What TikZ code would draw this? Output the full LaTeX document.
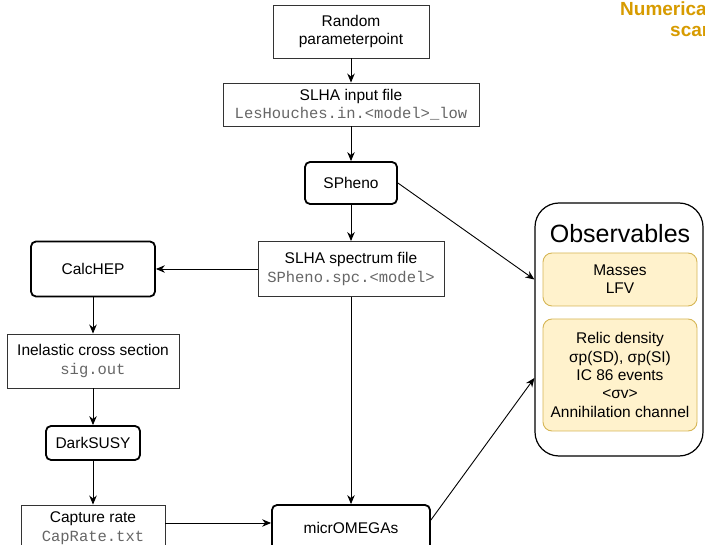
\documentclass[tikz,border=0pt]{standalone}
\usepackage{fontspec}
\setmainfont{Liberation Sans}
\setmonofont{Liberation Mono}
\usetikzlibrary{arrows.meta}
\definecolor{monogray}{HTML}{666666}
\definecolor{boxline}{HTML}{333333}
\definecolor{yfill}{HTML}{FFF2CC}
\definecolor{yline}{HTML}{D6B656}
\definecolor{orangetxt}{HTML}{D79B00}
\tikzset{
  filebox/.style={draw=boxline, line width=0.9pt, fill=white, align=center, inner sep=2pt, font=\fontsize{15.5}{18.5}\selectfont},
  toolbox/.style={draw=black, line width=1.8pt, rounded corners=5pt, fill=white, align=center, font=\fontsize{15.5}{18.5}\selectfont},
  obsbox/.style={draw=yline, line width=0.9pt, fill=yfill, rounded corners=9pt, align=center, font=\fontsize{15.5}{18.3}\selectfont},
  arr/.style={draw=black, line width=0.9pt, -{Stealth[length=9pt,width=7.5pt]}},
}
\newcommand{\mfile}[1]{{\ttfamily\color{monogray}\fontsize{15.5}{18}\selectfont #1}}
\begin{document}
\begin{tikzpicture}[x=1pt,y=-1pt]
\useasboundingbox (0,0) rectangle (705,545);
\clip (0,0) rectangle (705,545);
% observables container
\node[draw=black, line width=1.2pt, rounded corners=24pt, minimum width=168pt, minimum height=253pt] (obs) at (619,329.5) {};
\node[font=\fontsize{25}{29}\selectfont] (obstitle) at (620,234) {Observables};
\node[obsbox, minimum width=154pt, minimum height=53pt] (masses) at (620,279.5) {Masses\\LFV};
\node[obsbox, minimum width=154pt, minimum height=112pt] (relic) at (620,375) {Relic density\\σp(SD), σp(SI)\\IC 86 events\\<σv>\\Annihilation channel};
% numerical scan label (cut off at the right edge, as in the reference)
\node[anchor=base west, inner sep=0pt, font=\bfseries\fontsize{19}{21}\selectfont, text=orangetxt] (num) at (620,16) {Numerical};
\node[anchor=base west, inner sep=0pt, font=\bfseries\fontsize{19}{21}\selectfont, text=orangetxt] (scan) at (670,37) {scan};
% chain
\node[filebox, minimum width=156pt, minimum height=53pt] (rand) at (351,31.5) {Random\\parameterpoint};
\node[filebox, minimum width=256pt, minimum height=43pt] (slhain) at (351,104.5) {SLHA input file\\\mfile{LesHouches.in.<model>\_low}};
\node[toolbox, minimum width=92pt, minimum height=42pt] (spheno) at (351,183) {SPheno};
\node[filebox, minimum width=186pt, minimum height=55pt] (spc) at (351,269) {SLHA spectrum file\\\mfile{SPheno.spc.<model>}};
\node[toolbox, minimum width=124pt, minimum height=55pt] (calchep) at (93,269) {CalcHEP};
\node[filebox, minimum width=172pt, minimum height=54pt] (inel) at (93,361) {Inelastic cross section\\\mfile{sig.out}};
\node[toolbox, minimum width=94pt, minimum height=34pt] (dark) at (93,443) {DarkSUSY};
\node[filebox, minimum width=144pt, minimum height=46pt] (capt) at (93,528) {Capture rate\\\mfile{CapRate.txt}};
\node[toolbox, minimum width=158pt, minimum height=46pt] (micro) at (351,528) {micrOMEGAs};
% arrows
\draw[arr] (rand.south) -- (slhain.north);
\draw[arr] (slhain.south) -- (spheno.north);
\draw[arr] (spheno.south) -- (spc.north);
\draw[arr] (spheno.east) -- (obs.west |- masses.west);
\draw[arr] (spc.west) -- (calchep.east);
\draw[arr] (calchep.south) -- (inel.north);
\draw[arr] (inel.south) -- (dark.north);
\draw[arr] (dark.south) -- (capt.north);
\draw[arr] (capt.east |- 0,523) -- (micro.west |- 0,523);
\draw[arr] (spc.south) -- (micro.north);
\draw[arr] (micro.east |- 0,520) -- (obs.west |- 0,378);
\end{tikzpicture}
\end{document}
